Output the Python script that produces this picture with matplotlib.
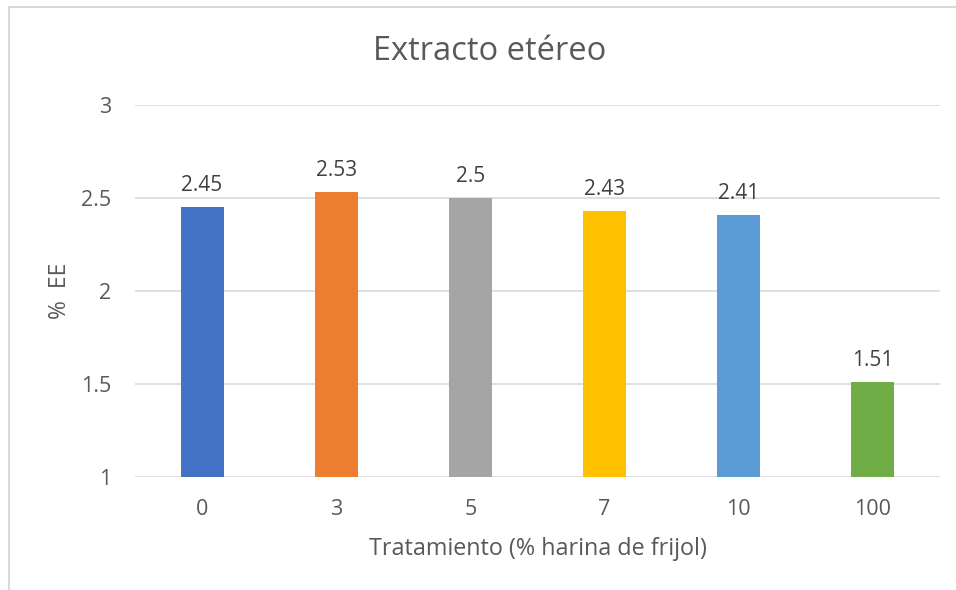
import matplotlib
matplotlib.use("Agg")
import matplotlib.pyplot as plt
from matplotlib.patches import Rectangle

tratamientos = ["0", "3", "5", "7", "10", "100"]
ee = [2.45, 2.53, 2.5, 2.43, 2.41, 1.51]
colores = ["#4472C4", "#ED7D31", "#A5A5A5", "#FFC000", "#5B9BD5", "#70AD47"]

plt.rcParams['font.family'] = ['Open Sans', 'DejaVu Sans']
texto = "#595959"

fig = plt.figure(figsize=(9.56, 5.90), dpi=100)
ax = fig.add_axes([135 / 956, 1 - 477 / 590, (940 - 135) / 956, (477 - 105) / 590])

x = range(len(tratamientos))
ax.bar(x, [v - 1 for v in ee], bottom=1, width=0.32, color=colores, zorder=3)
for i, v in enumerate(ee):
    ax.annotate(f"{v:g}", (i, v), xytext=(0, 8), textcoords="offset points",
                ha="center", va="bottom", fontsize=15, color="#404040")

ax.set_xlim(-0.5, len(tratamientos) - 0.5)
ax.set_ylim(1, 3)
ax.set_yticks([1, 1.5, 2, 2.5, 3])
ax.set_yticklabels(["1", "1.5", "2", "2.5", "3"])
ax.set_xticks(list(x))
ax.set_xticklabels(tratamientos)
ax.tick_params(length=0, labelsize=15.5, colors=texto)
ax.tick_params(axis="x", pad=16)
ax.tick_params(axis="y", pad=17)
ax.grid(axis="y", color="#D9D9D9", linewidth=1.2, zorder=0)
for s in ax.spines.values():
    s.set_visible(False)

fig.text(538 / 956, 1 - 549 / 590, "Tratamiento (% harina de frijol)", ha="center", va="center",
         fontsize=16.8, color=texto)
fig.text(60 / 956, 1 - 291 / 590, "%  EE", ha="center", va="center", rotation=90,
         fontsize=16.5, color=texto)
fig.text(490 / 956, 1 - 52 / 590, "Extracto etéreo", ha="center", va="center",
         fontsize=23.5, color=texto)

fig.patches.append(Rectangle((9 / 956, -0.1), 1.1, 1 - 7 / 590 + 0.1, transform=fig.transFigure,
                             fill=False, edgecolor="#D9D9D9", linewidth=1.5))

fig.savefig("out.png", dpi=100)
